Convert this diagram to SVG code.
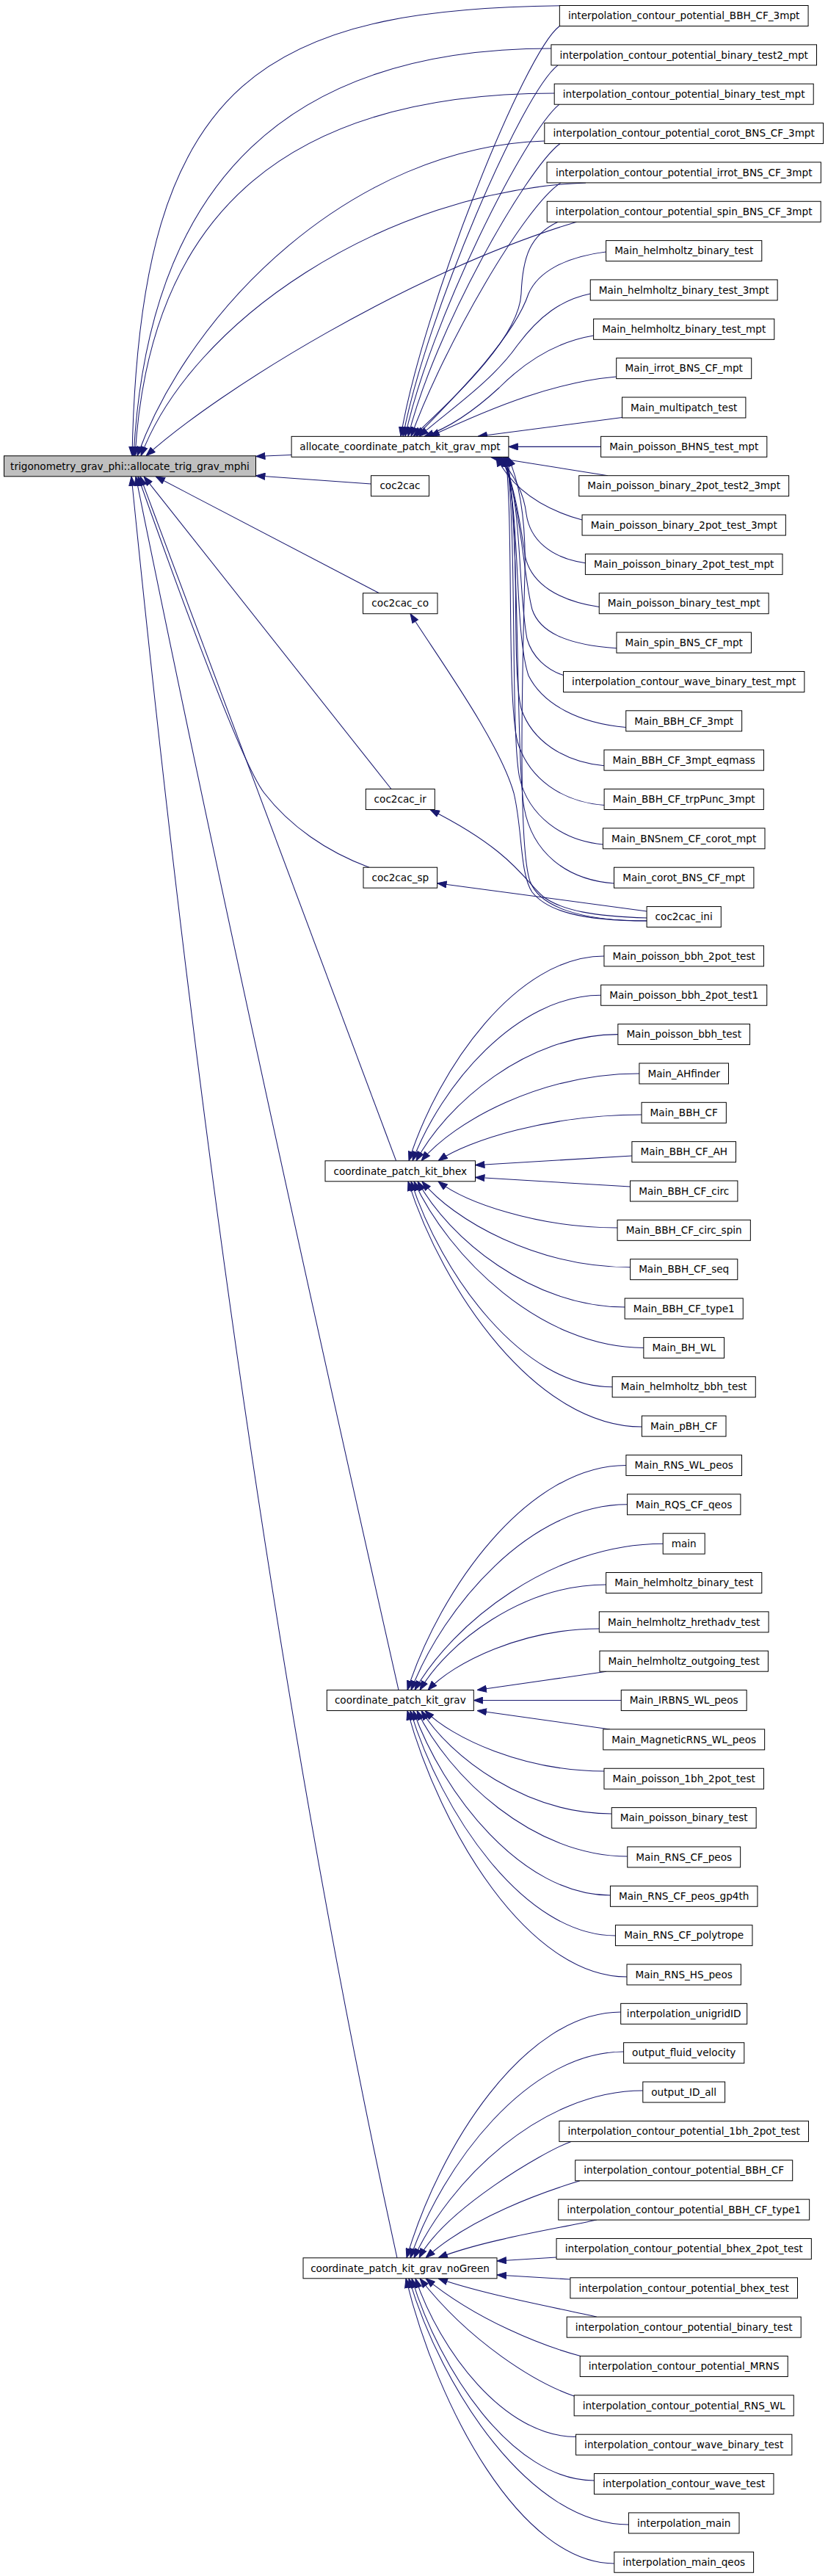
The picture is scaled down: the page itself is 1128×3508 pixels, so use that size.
<svg xmlns="http://www.w3.org/2000/svg" width="1128" height="3508" viewBox="0 0 1128 3508">
<style>
.n rect{fill:#fff;stroke:#000;stroke-width:1}
.n text{font-family:"DejaVu Sans",sans-serif;font-size:13.6px;text-anchor:middle;fill:#000}
.m rect{fill:#bfbfbf}
.e path{fill:none;stroke:#191970;stroke-width:1.05;marker-end:url(#arr)}
</style>
<defs>
<marker id="arr" markerWidth="13" markerHeight="10" refX="13" refY="5" orient="auto" markerUnits="userSpaceOnUse">
<path d="M0.5,0.5 L13,5 L0.5,9.5 z" fill="#191970" stroke="#191970" stroke-width="1"/>
</marker>
</defs>
<rect x="0" y="0" width="1128" height="3508" fill="#fff"/>
<g id="edges" class="e">
<path d="M810,7.7 C360,5 190,100 180,620.8"/>
<path d="M750.9,66 C400,66 202,240 182,620.8"/>
<path d="M755.2,127 C402.6,127 204,280 184,620.8"/>
<path d="M741.8,192 C480,200 260,420 187,620.8"/>
<path d="M798,248.9 C520,260 260,440 192,620.8"/>
<path d="M785.5,302.2 C560,370 300,530 199,620.8"/>
<path d="M397.1,619.5 L348.5,621.5"/>
<path d="M505.5,659 L348.5,647.8"/>
<path d="M516.6,807.8 L212,648.8"/>
<path d="M533,1074.5 L196,648.8"/>
<path d="M503,1181.2 C445,1160 395,1125 360,1080 C325,1035 226,756 188,648.8"/>
<path d="M539.6,1580.8 L191,648.8"/>
<path d="M543,2301.5 Q319.3,1311 185,648.8"/>
<path d="M541,3074.8 Q323.9,2088 179,648.8"/>
<path d="M762.4,35.5 C715,70 575,420 546,594.3"/>
<path d="M760,88.8 C712,125 580,430 549,594.3"/>
<path d="M762,142.2 C715,180 585,440 552,594.3"/>
<path d="M763,195.5 C717,230 592,450 556,594.3"/>
<path d="M764,248.9 C715,280 605,470 560,594.3"/>
<path d="M760,302.2 C722,320 712,350 710,400 C707,460 620,540 563,594.3"/>
<path d="M825.6,343 C770,350 733,370 720,400 C700,460 620,540 567,594.3"/>
<path d="M804.3,400 C765,408 735,430 705,470 C670,520 610,560 571,594.3"/>
<path d="M808.6,457 C760,465 718,490 680,528 C640,565 605,585 578,594.3"/>
<path d="M839.7,513 C760,520 680,550 586,594.3"/>
<path d="M847.5,568.5 L651,594.3"/>
<path d="M818.6,608.35 L692.9,608.35"/>
<path d="M828,647.7 L668,622.35"/>
<path d="M793,708 C745,695 700,670 676,622.35"/>
<path d="M797.4,766.7 C750,760 722,735 717,700 C713,665 695,640 679,622.35"/>
<path d="M816.25,826.6 C760,818 725,795 716,760 C708,710 700,650 681,622.35"/>
<path d="M840,882.8 C770,878 735,860 725,830 C712,780 710,680 683,622.35"/>
<path d="M767.5,919.6 C745,912 725,895 718,870 C705,800 712,680 685,622.35"/>
<path d="M852.75,990.4 C790,985 740,960 720,920 C700,860 710,700 687,622.35"/>
<path d="M823,1042.8 C770,1038 725,1010 710,965 C695,900 712,720 688,622.35"/>
<path d="M823.1,1096.6 C765,1092 720,1060 705,1010 C690,950 700,720 689,622.35"/>
<path d="M821.4,1150 C765,1145 720,1110 708,1060 C695,1000 705,720 690,622.35"/>
<path d="M836.5,1203 C770,1198 725,1160 714,1100 C703,1040 708,720 691,622.35"/>
<path d="M881.1,1254 C790,1254 735,1235 722,1200 C705,1150 712,900 715,780 C717,700 705,650 692,622.35"/>
<path d="M881.1,1241 L595.6,1202.8"/>
<path d="M881.1,1250 C810,1248 765,1240 740,1221 C715,1200 700,1160 586,1102.5"/>
<path d="M881.1,1254 C790,1254 745,1240 725,1215 C708,1190 712,1130 700,1080 C680,1010 600,900 559,835.8"/>
<path d="M822.95,1301.9 C703.3,1301.9 596.9,1455.3 557,1580.8"/>
<path d="M818.65,1355.25 C703.2,1355.25 600.5,1479.3 562,1580.8"/>
<path d="M841.85,1408.6 C718.2,1408.6 608.2,1503.3 567,1580.8"/>
<path d="M870.9,1462 C737.3,1462 618.5,1527.3 574,1580.8"/>
<path d="M874.05,1518 C749.4,1518 638.6,1552.5 597,1580.8"/>
<path d="M860.9,1574 L647.5,1586.7"/>
<path d="M858.5,1616 L647.5,1603.3"/>
<path d="M841.05,1672 C731.2,1672 633.6,1637.2 597,1608.8"/>
<path d="M858.6,1725.7 C731,1725.7 617.5,1661.4 575,1608.8"/>
<path d="M851.15,1780 C724.2,1780 611.3,1685.8 569,1608.8"/>
<path d="M876.85,1835.4 C736.1,1835.4 610.9,1710.8 564,1608.8"/>
<path d="M834.15,1888.75 C710.8,1888.75 601.1,1734.8 560,1608.8"/>
<path d="M874.4,1943 C731.1,1943 603.8,1759.2 556,1608.8"/>
<path d="M852.9,1995.45 C718.8,1995.45 599.7,2163.8 555,2301.55"/>
<path d="M854.5,2048.8 C722,2048.8 604.2,2187.8 560,2301.55"/>
<path d="M903.2,2102.15 C751,2102.15 615.7,2211.8 565,2301.55"/>
<path d="M825.6,2158 C711.5,2158 610,2236.9 572,2301.55"/>
<path d="M816.3,2218 C711.3,2218 618,2264 583,2301.55"/>
<path d="M826,2276.2 L650,2301.55"/>
<path d="M846.25,2315.55 L645.3,2315.55"/>
<path d="M831,2354.9 L650,2329.55"/>
<path d="M822.95,2412 C713.2,2412 615.6,2366.7 579,2329.55"/>
<path d="M833.25,2470 C716.6,2470 612.9,2392.8 574,2329.55"/>
<path d="M854.75,2528 C725.7,2528 611,2418.9 568,2329.55"/>
<path d="M831.45,2581 C710.6,2581 603.3,2442.7 563,2329.55"/>
<path d="M838.45,2636 C712.7,2636 600.9,2467.5 559,2329.55"/>
<path d="M854,2692 C719.4,2692 599.9,2492.7 555,2329.55"/>
<path d="M845.7,2740 C714.4,2740 597.8,2924.1 554,3074.8"/>
<path d="M849.6,2794 C718.8,2794 602.6,2948.4 559,3074.8"/>
<path d="M875.8,2847 C735.5,2847 610.8,2972.3 564,3074.8"/>
<path d="M778,2916.4 C740,2930 605,3010 571,3074.8"/>
<path d="M790,2969.75 C740,2985 640,3020 580,3074.8"/>
<path d="M813,3023 C760,3035 660,3050 597,3074.8"/>
<path d="M758.05,3074 L677,3079"/>
<path d="M776.9,3104 L677,3098"/>
<path d="M813,3155.2 C760,3143 660,3125 597,3102.8"/>
<path d="M791,3208.5 C740,3195 650,3160 580,3102.8"/>
<path d="M782.15,3263 C730,3245 640,3190 572,3102.8"/>
<path d="M784.55,3318.5 C686.2,3318.5 598.8,3199.8 566,3102.8"/>
<path d="M809.45,3378 C697.6,3378 598.3,3226.6 561,3102.8"/>
<path d="M856.4,3438 C721.7,3438 601.9,3253.6 557,3102.8"/>
<path d="M836.8,3491 C709.1,3491 595.6,3277.5 553,3102.8"/>
</g>
<g id="main_node" class="n m"><rect x="5.5" y="620.8" width="343" height="28"/><text x="177" y="639.5">trigonometry_grav_phi::allocate_trig_grav_mphi</text></g>
<g id="allocate_coordinate_patch_kit_grav_mpt" class="n"><rect x="397.1" y="594.35" width="295.8" height="28"/><text x="545" y="613.05">allocate_coordinate_patch_kit_grav_mpt</text></g>
<g id="coc2cac" class="n"><rect x="505.5" y="647.7" width="79" height="28"/><text x="545" y="666.4">coc2cac</text></g>
<g id="coc2cac_co" class="n"><rect x="494.5" y="807.75" width="101.5" height="28"/><text x="545.25" y="826.45">coc2cac_co</text></g>
<g id="coc2cac_ir" class="n"><rect x="498.3" y="1074.5" width="94" height="28"/><text x="545.3" y="1093.2">coc2cac_ir</text></g>
<g id="coc2cac_sp" class="n"><rect x="495" y="1181.2" width="100.6" height="28"/><text x="545.3" y="1199.9">coc2cac_sp</text></g>
<g id="coordinate_patch_kit_bhex" class="n"><rect x="443" y="1580.8" width="204.5" height="28"/><text x="545.25" y="1599.5">coordinate_patch_kit_bhex</text></g>
<g id="coordinate_patch_kit_grav" class="n"><rect x="445.3" y="2301.55" width="200" height="28"/><text x="545.3" y="2320.25">coordinate_patch_kit_grav</text></g>
<g id="coordinate_patch_kit_grav_noGreen" class="n"><rect x="413" y="3074.8" width="264" height="28"/><text x="545" y="3093.5">coordinate_patch_kit_grav_noGreen</text></g>
<g id="r0" class="n"><rect x="762.35" y="7.5" width="338.7" height="28"/><text x="931.7" y="26.2">interpolation_contour_potential_BBH_CF_3mpt</text></g>
<g id="r1" class="n"><rect x="750.9" y="60.85" width="361.6" height="28"/><text x="931.7" y="79.55">interpolation_contour_potential_binary_test2_mpt</text></g>
<g id="r2" class="n"><rect x="755.2" y="114.2" width="353" height="28"/><text x="931.7" y="132.9">interpolation_contour_potential_binary_test_mpt</text></g>
<g id="r3" class="n"><rect x="741.8" y="167.55" width="379.8" height="28"/><text x="931.7" y="186.25">interpolation_contour_potential_corot_BNS_CF_3mpt</text></g>
<g id="r4" class="n"><rect x="745.05" y="220.9" width="373.3" height="28"/><text x="931.7" y="239.6">interpolation_contour_potential_irrot_BNS_CF_3mpt</text></g>
<g id="r5" class="n"><rect x="745.25" y="274.25" width="372.9" height="28"/><text x="931.7" y="292.95">interpolation_contour_potential_spin_BNS_CF_3mpt</text></g>
<g id="r6" class="n"><rect x="825.6" y="327.6" width="212.2" height="28"/><text x="931.7" y="346.3">Main_helmholtz_binary_test</text></g>
<g id="r7" class="n"><rect x="804.25" y="380.95" width="254.9" height="28"/><text x="931.7" y="399.65">Main_helmholtz_binary_test_3mpt</text></g>
<g id="r8" class="n"><rect x="808.6" y="434.3" width="246.2" height="28"/><text x="931.7" y="453">Main_helmholtz_binary_test_mpt</text></g>
<g id="r9" class="n"><rect x="839.7" y="487.65" width="184" height="28"/><text x="931.7" y="506.35">Main_irrot_BNS_CF_mpt</text></g>
<g id="r10" class="n"><rect x="847.5" y="541" width="168.4" height="28"/><text x="931.7" y="559.7">Main_multipatch_test</text></g>
<g id="r11" class="n"><rect x="818.6" y="594.35" width="226.2" height="28"/><text x="931.7" y="613.05">Main_poisson_BHNS_test_mpt</text></g>
<g id="r12" class="n"><rect x="788.75" y="647.7" width="285.9" height="28"/><text x="931.7" y="666.4">Main_poisson_binary_2pot_test2_3mpt</text></g>
<g id="r13" class="n"><rect x="793.05" y="701.05" width="277.3" height="28"/><text x="931.7" y="719.75">Main_poisson_binary_2pot_test_3mpt</text></g>
<g id="r14" class="n"><rect x="797.4" y="754.4" width="268.6" height="28"/><text x="931.7" y="773.1">Main_poisson_binary_2pot_test_mpt</text></g>
<g id="r15" class="n"><rect x="816.25" y="807.75" width="230.9" height="28"/><text x="931.7" y="826.45">Main_poisson_binary_test_mpt</text></g>
<g id="r16" class="n"><rect x="839.95" y="861.1" width="183.5" height="28"/><text x="931.7" y="879.8">Main_spin_BNS_CF_mpt</text></g>
<g id="r17" class="n"><rect x="767.55" y="914.45" width="328.3" height="28"/><text x="931.7" y="933.15">interpolation_contour_wave_binary_test_mpt</text></g>
<g id="r18" class="n"><rect x="852.75" y="967.8" width="157.9" height="28"/><text x="931.7" y="986.5">Main_BBH_CF_3mpt</text></g>
<g id="r19" class="n"><rect x="822.95" y="1021.15" width="217.5" height="28"/><text x="931.7" y="1039.85">Main_BBH_CF_3mpt_eqmass</text></g>
<g id="r20" class="n"><rect x="823.1" y="1074.5" width="217.2" height="28"/><text x="931.7" y="1093.2">Main_BBH_CF_trpPunc_3mpt</text></g>
<g id="r21" class="n"><rect x="821.4" y="1127.85" width="220.6" height="28"/><text x="931.7" y="1146.55">Main_BNSnem_CF_corot_mpt</text></g>
<g id="r22" class="n"><rect x="836.5" y="1181.2" width="190.4" height="28"/><text x="931.7" y="1199.9">Main_corot_BNS_CF_mpt</text></g>
<g id="coc2cac_ini" class="n"><rect x="881.1" y="1234.55" width="101.2" height="28"/><text x="931.7" y="1253.25">coc2cac_ini</text></g>
<g id="r24" class="n"><rect x="822.95" y="1287.9" width="217.5" height="28"/><text x="931.7" y="1306.6">Main_poisson_bbh_2pot_test</text></g>
<g id="r25" class="n"><rect x="818.65" y="1341.25" width="226.1" height="28"/><text x="931.7" y="1359.95">Main_poisson_bbh_2pot_test1</text></g>
<g id="r26" class="n"><rect x="841.85" y="1394.6" width="179.7" height="28"/><text x="931.7" y="1413.3">Main_poisson_bbh_test</text></g>
<g id="r27" class="n"><rect x="870.9" y="1447.95" width="121.6" height="28"/><text x="931.7" y="1466.65">Main_AHfinder</text></g>
<g id="r28" class="n"><rect x="874.05" y="1501.3" width="115.3" height="28"/><text x="931.7" y="1520">Main_BBH_CF</text></g>
<g id="r29" class="n"><rect x="860.9" y="1554.65" width="141.6" height="28"/><text x="931.7" y="1573.35">Main_BBH_CF_AH</text></g>
<g id="r30" class="n"><rect x="858.5" y="1608" width="146.4" height="28"/><text x="931.7" y="1626.7">Main_BBH_CF_circ</text></g>
<g id="r31" class="n"><rect x="841.05" y="1661.35" width="181.3" height="28"/><text x="931.7" y="1680.05">Main_BBH_CF_circ_spin</text></g>
<g id="r32" class="n"><rect x="858.6" y="1714.7" width="146.2" height="28"/><text x="931.7" y="1733.4">Main_BBH_CF_seq</text></g>
<g id="r33" class="n"><rect x="851.15" y="1768.05" width="161.1" height="28"/><text x="931.7" y="1786.75">Main_BBH_CF_type1</text></g>
<g id="r34" class="n"><rect x="876.85" y="1821.4" width="109.7" height="28"/><text x="931.7" y="1840.1">Main_BH_WL</text></g>
<g id="r35" class="n"><rect x="834.15" y="1874.75" width="195.1" height="28"/><text x="931.7" y="1893.45">Main_helmholtz_bbh_test</text></g>
<g id="r36" class="n"><rect x="874.4" y="1928.1" width="114.6" height="28"/><text x="931.7" y="1946.8">Main_pBH_CF</text></g>
<g id="r37" class="n"><rect x="852.9" y="1981.45" width="157.6" height="28"/><text x="931.7" y="2000.15">Main_RNS_WL_peos</text></g>
<g id="r38" class="n"><rect x="854.5" y="2034.8" width="154.4" height="28"/><text x="931.7" y="2053.5">Main_RQS_CF_qeos</text></g>
<g id="r39" class="n"><rect x="903.2" y="2088.15" width="57" height="28"/><text x="931.7" y="2106.85">main</text></g>
<g id="r40" class="n"><rect x="825.6" y="2141.5" width="212.2" height="28"/><text x="931.7" y="2160.2">Main_helmholtz_binary_test</text></g>
<g id="r41" class="n"><rect x="816.3" y="2194.85" width="230.8" height="28"/><text x="931.7" y="2213.55">Main_helmholtz_hrethadv_test</text></g>
<g id="r42" class="n"><rect x="816.95" y="2248.2" width="229.5" height="28"/><text x="931.7" y="2266.9">Main_helmholtz_outgoing_test</text></g>
<g id="r43" class="n"><rect x="846.25" y="2301.55" width="170.9" height="28"/><text x="931.7" y="2320.25">Main_IRBNS_WL_peos</text></g>
<g id="r44" class="n"><rect x="821.75" y="2354.9" width="219.9" height="28"/><text x="931.7" y="2373.6">Main_MagneticRNS_WL_peos</text></g>
<g id="r45" class="n"><rect x="822.95" y="2408.25" width="217.5" height="28"/><text x="931.7" y="2426.95">Main_poisson_1bh_2pot_test</text></g>
<g id="r46" class="n"><rect x="833.25" y="2461.6" width="196.9" height="28"/><text x="931.7" y="2480.3">Main_poisson_binary_test</text></g>
<g id="r47" class="n"><rect x="854.75" y="2514.95" width="153.9" height="28"/><text x="931.7" y="2533.65">Main_RNS_CF_peos</text></g>
<g id="r48" class="n"><rect x="831.45" y="2568.3" width="200.5" height="28"/><text x="931.7" y="2587">Main_RNS_CF_peos_gp4th</text></g>
<g id="r49" class="n"><rect x="838.45" y="2621.65" width="186.5" height="28"/><text x="931.7" y="2640.35">Main_RNS_CF_polytrope</text></g>
<g id="r50" class="n"><rect x="854" y="2675" width="155.4" height="28"/><text x="931.7" y="2693.7">Main_RNS_HS_peos</text></g>
<g id="r51" class="n"><rect x="845.7" y="2728.35" width="172" height="28"/><text x="931.7" y="2747.05">interpolation_unigridID</text></g>
<g id="r52" class="n"><rect x="849.6" y="2781.7" width="164.2" height="28"/><text x="931.7" y="2800.4">output_fluid_velocity</text></g>
<g id="r53" class="n"><rect x="875.8" y="2835.05" width="111.8" height="28"/><text x="931.7" y="2853.75">output_ID_all</text></g>
<g id="r54" class="n"><rect x="761.9" y="2888.4" width="339.6" height="28"/><text x="931.7" y="2907.1">interpolation_contour_potential_1bh_2pot_test</text></g>
<g id="r55" class="n"><rect x="783.7" y="2941.75" width="296" height="28"/><text x="931.7" y="2960.45">interpolation_contour_potential_BBH_CF</text></g>
<g id="r56" class="n"><rect x="760.75" y="2995.1" width="341.9" height="28"/><text x="931.7" y="3013.8">interpolation_contour_potential_BBH_CF_type1</text></g>
<g id="r57" class="n"><rect x="758.05" y="3048.45" width="347.3" height="28"/><text x="931.7" y="3067.15">interpolation_contour_potential_bhex_2pot_test</text></g>
<g id="r58" class="n"><rect x="776.9" y="3101.8" width="309.6" height="28"/><text x="931.7" y="3120.5">interpolation_contour_potential_bhex_test</text></g>
<g id="r59" class="n"><rect x="772.2" y="3155.15" width="319" height="28"/><text x="931.7" y="3173.85">interpolation_contour_potential_binary_test</text></g>
<g id="r60" class="n"><rect x="790.2" y="3208.5" width="283" height="28"/><text x="931.7" y="3227.2">interpolation_contour_potential_MRNS</text></g>
<g id="r61" class="n"><rect x="782.15" y="3261.85" width="299.1" height="28"/><text x="931.7" y="3280.55">interpolation_contour_potential_RNS_WL</text></g>
<g id="r62" class="n"><rect x="784.55" y="3315.2" width="294.3" height="28"/><text x="931.7" y="3333.9">interpolation_contour_wave_binary_test</text></g>
<g id="r63" class="n"><rect x="809.45" y="3368.55" width="244.5" height="28"/><text x="931.7" y="3387.25">interpolation_contour_wave_test</text></g>
<g id="r64" class="n"><rect x="856.4" y="3421.9" width="150.6" height="28"/><text x="931.7" y="3440.6">interpolation_main</text></g>
<g id="r65" class="n"><rect x="836.8" y="3475.25" width="189.8" height="28"/><text x="931.7" y="3493.95">interpolation_main_qeos</text></g>
</svg>
